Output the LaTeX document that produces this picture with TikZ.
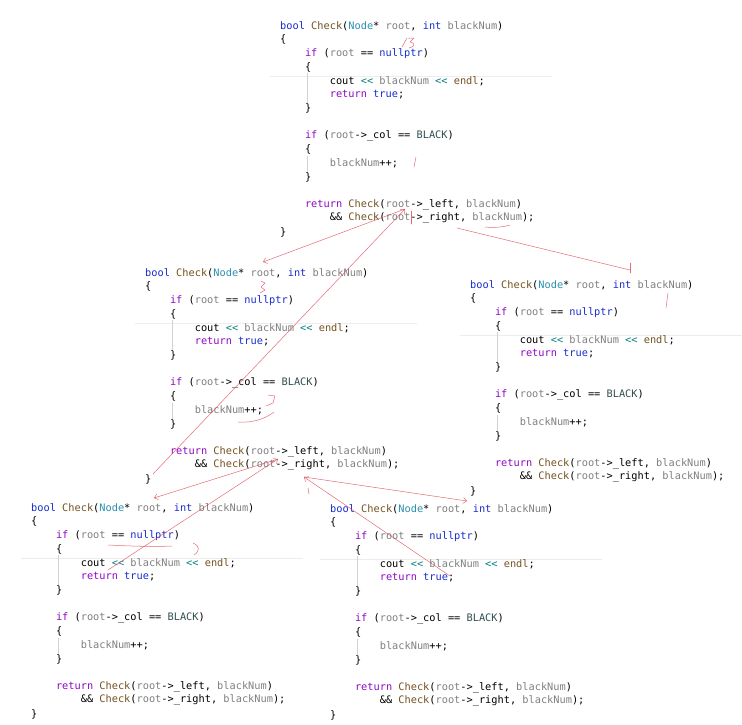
\documentclass[tikz,border=0pt]{standalone}
\usepackage{fontspec}
\setmonofont{DejaVu Sans Mono}
\usepackage{tikz}
\usetikzlibrary{arrows.meta}
\definecolor{ckw}{RGB}{25,45,205}
\definecolor{cctl}{RGB}{143,8,196}
\definecolor{ctyp}{RGB}{43,145,175}
\definecolor{cfun}{RGB}{116,83,31}
\definecolor{cpar}{RGB}{128,128,128}
\definecolor{cop}{RGB}{0,128,128}
\definecolor{cenm}{RGB}{47,79,79}
\definecolor{cpen}{RGB}{222,70,85}
\newcommand{\kwd}[1]{\textcolor{ckw}{#1}}
\newcommand{\ctrl}[1]{\textcolor{cctl}{#1}}
\newcommand{\typ}[1]{\textcolor{ctyp}{#1}}
\newcommand{\func}[1]{\textcolor{cfun}{#1}}
\newcommand{\parm}[1]{\textcolor{cpar}{#1}}
\newcommand{\oper}[1]{\textcolor{cop}{#1}}
\newcommand{\enm}[1]{\textcolor{cenm}{#1}}
\newcommand{\lh}{13.73}
\newcommand{\ind}{24.8}
\tikzset{
  codeln/.style={anchor=west,inner sep=0pt,text=black,
    font=\ttfamily\fontsize{10.3}{12}\selectfont},
  % editor decorations: indent guides and current-line border
  guide/.style={draw=gray!35,line width=0.4pt},
  hiline/.style={draw=gray!14,line width=0.7pt},
  % handwritten red marks
  pen/.style={draw=cpen,line width=0.5pt,line cap=round,line join=round,
    opacity=0.8},
  penarr/.style={pen,-{Straight Barb[length=3.5pt,width=6pt]}}
}
% one copy of the Check function, #1 name, (#2,#3) top left corner
\newcommand{\checkblock}[3]{%
 \begin{scope}[shift={(#2,#3)}]
  \draw[hiline] (-10,3.65*\lh) -- (272,3.65*\lh);
  \draw[guide] (27,3.45*\lh) -- (27,5.6*\lh);
  \draw[guide] (27,9.45*\lh) -- (27,10.6*\lh);
  \node[codeln] (#1-hd) at (0,0)
    {\kwd{bool} \func{Check}(\typ{Node}* \parm{root}, \kwd{int} \parm{blackNum})};
  \node[codeln] (#1-ob) at (0,\lh) {\{};
  \node[codeln] (#1-if) at (\ind,2*\lh) {\ctrl{if} (\parm{root} == \kwd{nullptr})};
  \node[codeln] (#1-ifo) at (\ind,3*\lh) {\{};
  \node[codeln] (#1-out) at (2*\ind,4*\lh)
    {cout \oper{<<} \parm{blackNum} \oper{<<} \func{endl};};
  \node[codeln] (#1-rt) at (2*\ind,5*\lh) {\ctrl{return} \kwd{true};};
  \node[codeln] (#1-ifc) at (\ind,6*\lh) {\}};
  \node[codeln] (#1-col) at (\ind,8*\lh)
    {\ctrl{if} (\parm{root}->\_col == \enm{BLACK})};
  \node[codeln] (#1-colo) at (\ind,9*\lh) {\{};
  \node[codeln] (#1-inc) at (2*\ind,10*\lh) {\parm{blackNum}++;};
  \node[codeln] (#1-colc) at (\ind,11*\lh) {\}};
  \node[codeln] (#1-lc) at (\ind,13*\lh)
    {\ctrl{return} \func{Check}(\parm{root}->\_left, \parm{blackNum})};
  \node[codeln] (#1-rc) at (2*\ind,14*\lh)
    {\&\& \func{Check}(\parm{root}->\_right, \parm{blackNum});};
  \node[codeln] (#1-cb) at (0,15*\lh) {\}};
 \end{scope}}

\begin{document}
\begin{tikzpicture}[x=1pt,y=-1pt]
 \fill[white] (0,0) rectangle (742,724);
 \useasboundingbox (0,0) rectangle (742,724);
 % the five calls of Check
 \checkblock{top}{280}{26}
 \checkblock{lft}{145}{273}
 \checkblock{rgt}{470}{285}
 \checkblock{lfl}{31}{508}
 \checkblock{lfr}{330}{509}
 % ends of the hand drawn arrows
 \coordinate (topL) at (405,209);
 \coordinate (topR) at (457,228);
 \coordinate (lftIn) at (263,262);
 \coordinate (lftOut) at (153,474);
 \coordinate (rgtIn) at (630,270);
 \coordinate (lftL) at (278,459);
 \coordinate (lftR) at (304,477);
 \coordinate (lflIn) at (154,498);
 \coordinate (lflOut) at (108,570);
 \coordinate (lfrIn) at (467,501);
 \coordinate (lfrOut) at (450,576);
 % calls and returns
 \draw[penarr] (topL) -- (lftIn);
 \draw[penarr] (lftOut) -- (topL);
 \draw[pen] (topR) -- (rgtIn);
 \draw[pen] (630,263) -- (630,273);
 \draw[pen] (411,211) -- (411,224);
 \draw[penarr] (lftL) -- (lflIn);
 \draw[penarr] (lflOut) -- (lftL);
 \draw[penarr] (lftR) -- (lfrIn);
 \draw[penarr] (lfrOut) -- (lftR);
 \draw[pen] (308,488) -- (309,494);
 % small notes and underlines
 \draw[pen] (402,47) -- (407,38);
 \draw[pen] (408,38) -- (414,38) -- (410,42) .. controls (416,43) and (415,47) .. (409,48);
 \draw[pen] (416,157) -- (414,167);
 \draw[pen] (485,227) .. controls (495,228) and (503,227) .. (510,225);
 \draw[pen] (668,293) -- (666,308);
 \draw[pen] (261,281) -- (265,283) -- (261,287) -- (265,290) -- (260,293);
 \draw[pen] (268,395) -- (275,396) -- (273,403) -- (266,406);
 \draw[pen] (238,422) .. controls (255,423) and (266,418) .. (274,412);
 \draw[pen] (108,545) .. controls (130,546) and (150,547) .. (172,546);
 \draw[pen] (193,543) .. controls (200,546) and (200,551) .. (194,555);
\end{tikzpicture}
\end{document}
